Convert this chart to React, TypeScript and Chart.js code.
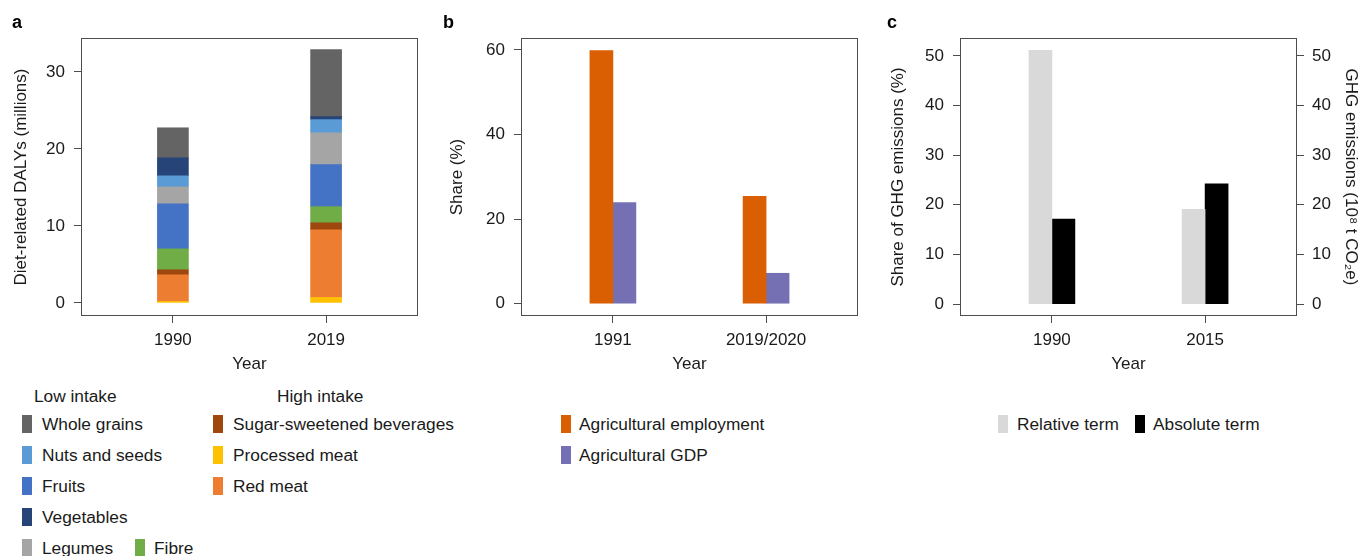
import React, { useEffect, useRef } from 'react';
import { Chart, registerables } from 'chart.js';

Chart.register(...registerables);

// ---------------- Data ----------------
// Panel a: diet-related DALYs (millions), stacked bottom -> top
const yearsA = ['1990', '2019'];
const processedMeat = [0.2, 0.7];
const redMeat = [3.45, 8.8];
const sugarBeverages = [0.65, 0.9];
const fibre = [2.72, 2.1];
const fruits = [5.85, 5.45];
const legumes = [2.2, 4.15];
const nutsSeeds = [1.43, 1.7];
const vegetables = [2.34, 0.4];
const wholeGrains = [3.9, 8.7];
const ticksA = [0, 10, 20, 30];

// Panel b: share (%)
const yearsB = ['1991', '2019/2020'];
const agriEmployment = [59.8, 25.4];
const agriGDP = [23.9, 7.2];
const ticksB = [0, 20, 40, 60];

// Panel c: GHG emissions
const yearsC = ['1990', '2015'];
const relativeTerm = [51.1, 19.1];
const absoluteTerm = [17.1, 24.2];
const ticksC = [0, 10, 20, 30, 40, 50];

// Legend labels
const lowIntakeNames = ['Whole grains', 'Nuts and seeds', 'Fruits', 'Vegetables', 'Legumes', 'Fibre'];
const highIntakeNames = ['Sugar-sweetened beverages', 'Processed meat', 'Red meat'];

// ---------------- Styles ----------------
const FONT_FAMILY = "'Liberation Sans', Arial, Helvetica, sans-serif";
const TEXT = '#1a1a1a';
const FRAME = '#4d4d4d';
const font = { family: FONT_FAMILY, size: 17 };
const LEGEND_SIZE = 17.3;

const COLORS: Record<string, string> = {
  'Whole grains': '#646464',
  'Nuts and seeds': '#5B9BD5',
  'Fruits': '#4472C4',
  'Vegetables': '#264478',
  'Legumes': '#A5A5A5',
  'Fibre': '#70AD47',
  'Sugar-sweetened beverages': '#9E480E',
  'Processed meat': '#FFC000',
  'Red meat': '#ED7D31',
  'Agricultural employment': '#D95F02',
  'Agricultural GDP': '#7570B3',
  'Relative term': '#D9D9D9',
  'Absolute term': '#000000',
};

const framePlugin = {
  id: 'frame',
  afterDraw(chart: any) {
    const { ctx, chartArea } = chart;
    const l = Math.round(chartArea.left) + 0.5;
    const t = Math.round(chartArea.top) + 0.5;
    const r = Math.round(chartArea.right) - 0.5;
    const b = Math.round(chartArea.bottom) - 0.5;
    ctx.save();
    ctx.strokeStyle = FRAME;
    ctx.lineWidth = 1;
    ctx.strokeRect(l, t, r - l, b - t);
    ctx.restore();
  },
};

function toPoints(vals: number[]) {
  return vals.map((v, i) => ({ x: i, y: v }));
}

function xAxis(labels: string[], height: number) {
  return {
    type: 'linear',
    min: -0.6,
    max: labels.length - 1 + 0.6,
    offset: false,
    afterBuildTicks: (s: any) => {
      s.ticks = labels.map((_, i) => ({ value: i }));
    },
    afterFit: (s: any) => {
      s.height = height;
    },
    ticks: {
      callback: (v: any) => labels[Math.round(Number(v))] ?? '',
      font,
      color: TEXT,
      padding: 7,
      maxRotation: 0,
      autoSkip: false,
    },
    grid: { drawOnChartArea: false, drawTicks: true, tickLength: 7, color: FRAME, offset: false },
    border: { display: false },
    title: { display: true, text: 'Year', font, color: TEXT, padding: { top: 0, bottom: 5.8 } },
  };
}

function yAxis(
  tickVals: number[],
  min: number,
  max: number,
  width: number,
  title: string,
  titlePad: number,
  position: 'left' | 'right' = 'left'
) {
  return {
    type: 'linear',
    position,
    min,
    max,
    afterBuildTicks: (s: any) => {
      s.ticks = tickVals.map((v) => ({ value: v }));
    },
    afterFit: (s: any) => {
      s.width = width;
    },
    ticks: {
      font,
      color: TEXT,
      padding: position === 'left' ? 9 : 8,
      callback: (v: any) => String(v),
    },
    grid: { drawOnChartArea: false, drawTicks: true, tickLength: 7, color: FRAME },
    border: { display: false },
    title: { display: true, text: title, font, color: TEXT, padding: { top: titlePad, bottom: 0 } },
  };
}

function ChartCanvas({ left, width, height, config }: { left: number; width: number; height: number; config: any }) {
  const ref = useRef<HTMLCanvasElement | null>(null);
  useEffect(() => {
    if (!ref.current) return;
    const chart = new Chart(ref.current, config);
    return () => chart.destroy();
  }, []);
  return (
    <canvas
      ref={ref}
      width={width}
      height={height}
      style={{ position: 'absolute', left, top: 0, width, height }}
    />
  );
}

const baseOptions = (padRight: number, padTop: number) => ({
  responsive: false,
  animation: false,
  layout: { padding: { left: 0, right: padRight, top: padTop, bottom: 0 } },
  plugins: { legend: { display: false }, tooltip: { enabled: false } },
});

// ---------------- Configs ----------------
const stackedA: [string, number[]][] = [
  ['Processed meat', processedMeat],
  ['Red meat', redMeat],
  ['Sugar-sweetened beverages', sugarBeverages],
  ['Fibre', fibre],
  ['Fruits', fruits],
  ['Legumes', legumes],
  ['Nuts and seeds', nutsSeeds],
  ['Vegetables', vegetables],
  ['Whole grains', wholeGrains],
];

const configA = {
  type: 'bar',
  data: {
    datasets: stackedA.map(([name, vals]) => ({
      label: name,
      data: toPoints(vals),
      backgroundColor: COLORS[name],
      borderWidth: 0,
      barThickness: 31,
      stack: 'diet',
    })),
  },
  options: {
    ...baseOptions(12, 38),
    scales: {
      x: xAxis(yearsA, 64),
      y: { ...yAxis(ticksA, -1.7, 34.4, 81, 'Diet-related DALYs (millions)', 10.8), stacked: true },
    },
  },
  plugins: [framePlugin],
};

const configB = {
  type: 'bar',
  data: {
    datasets: [
      ['Agricultural employment', agriEmployment],
      ['Agricultural GDP', agriGDP],
    ].map(([name, vals]: any) => ({
      label: name,
      data: toPoints(vals),
      backgroundColor: COLORS[name],
      borderWidth: 0,
      barThickness: 23,
    })),
  },
  options: {
    ...baseOptions(12, 38),
    scales: {
      x: xAxis(yearsB, 64),
      y: yAxis(ticksB, -2.9, 62.8, 91, 'Share (%)', 16.8),
    },
  },
  plugins: [framePlugin],
};

const configC = {
  type: 'bar',
  data: {
    datasets: [
      {
        label: 'Relative term',
        data: toPoints(relativeTerm),
        backgroundColor: COLORS['Relative term'],
        borderWidth: 0,
        barThickness: 23,
        yAxisID: 'y',
      },
      {
        label: 'Absolute term',
        data: toPoints(absoluteTerm),
        backgroundColor: COLORS['Absolute term'],
        borderWidth: 0,
        barThickness: 23,
        yAxisID: 'y2',
      },
    ],
  },
  options: {
    ...baseOptions(0, 38),
    scales: {
      x: xAxis(yearsC, 64),
      y: yAxis(ticksC, -2.4, 53.6, 90, 'Share of GHG emissions (%)', 17.8),
      y2: yAxis(ticksC, -2.4, 53.6, 74, 'GHG emissions (10⁸ t CO₂e)', 9.8, 'right'),
    },
  },
  plugins: [framePlugin],
};

// ---------------- Legend helpers ----------------
function LegendItem({ name, swatchLeft, textLeft, cy }: { name: string; swatchLeft: number; textLeft: number; cy: number }) {
  return (
    <>
      <div
        style={{
          position: 'absolute',
          left: swatchLeft,
          top: cy - 9,
          width: 10,
          height: 18,
          background: COLORS[name],
        }}
      />
      <div
        style={{
          position: 'absolute',
          left: textLeft,
          top: cy - 10,
          fontSize: LEGEND_SIZE,
          lineHeight: '20px',
          color: TEXT,
          whiteSpace: 'nowrap',
        }}
      >
        {name}
      </div>
    </>
  );
}

function Heading({ text, left, cy }: { text: string; left: number; cy: number }) {
  return (
    <div style={{ position: 'absolute', left, top: cy - 10, fontSize: LEGEND_SIZE, lineHeight: '20px', color: TEXT, whiteSpace: 'nowrap' }}>
      {text}
    </div>
  );
}

function PanelLetter({ text, left }: { text: string; left: number }) {
  return (
    <div style={{ position: 'absolute', left, top: 13, fontSize: 18, lineHeight: '18px', fontWeight: 'bold', color: '#000' }}>
      {text}
    </div>
  );
}

export default function App() {
  const rowY = [424, 455, 486, 517, 548];
  return (
    <div
      style={{
        position: 'fixed',
        left: 0,
        top: 0,
        width: 1371,
        height: 556,
        overflow: 'hidden',
        background: '#ffffff',
        fontFamily: FONT_FAMILY,
      }}
    >
      <ChartCanvas left={0} width={430} height={380} config={configA} />
      <ChartCanvas left={430} width={440} height={380} config={configB} />
      <ChartCanvas left={870} width={501} height={380} config={configC} />

      <PanelLetter text="a" left={12} />
      <PanelLetter text="b" left={443} />
      <PanelLetter text="c" left={887} />

      {/* Panel a legend */}
      <Heading text="Low intake" left={34} cy={396} />
      <Heading text="High intake" left={277} cy={396} />
      {lowIntakeNames.slice(0, 5).map((n, i) => (
        <LegendItem key={n} name={n} swatchLeft={22} textLeft={42} cy={rowY[i]} />
      ))}
      <LegendItem name={lowIntakeNames[5]} swatchLeft={135} textLeft={154} cy={rowY[4]} />
      {highIntakeNames.map((n, i) => (
        <LegendItem key={n} name={n} swatchLeft={213} textLeft={233} cy={rowY[i]} />
      ))}

      {/* Panel b legend */}
      <LegendItem name="Agricultural employment" swatchLeft={561} textLeft={579} cy={rowY[0]} />
      <LegendItem name="Agricultural GDP" swatchLeft={561} textLeft={579} cy={rowY[1]} />

      {/* Panel c legend */}
      <LegendItem name="Relative term" swatchLeft={998} textLeft={1017} cy={rowY[0]} />
      <LegendItem name="Absolute term" swatchLeft={1135} textLeft={1153} cy={rowY[0]} />
    </div>
  );
}
